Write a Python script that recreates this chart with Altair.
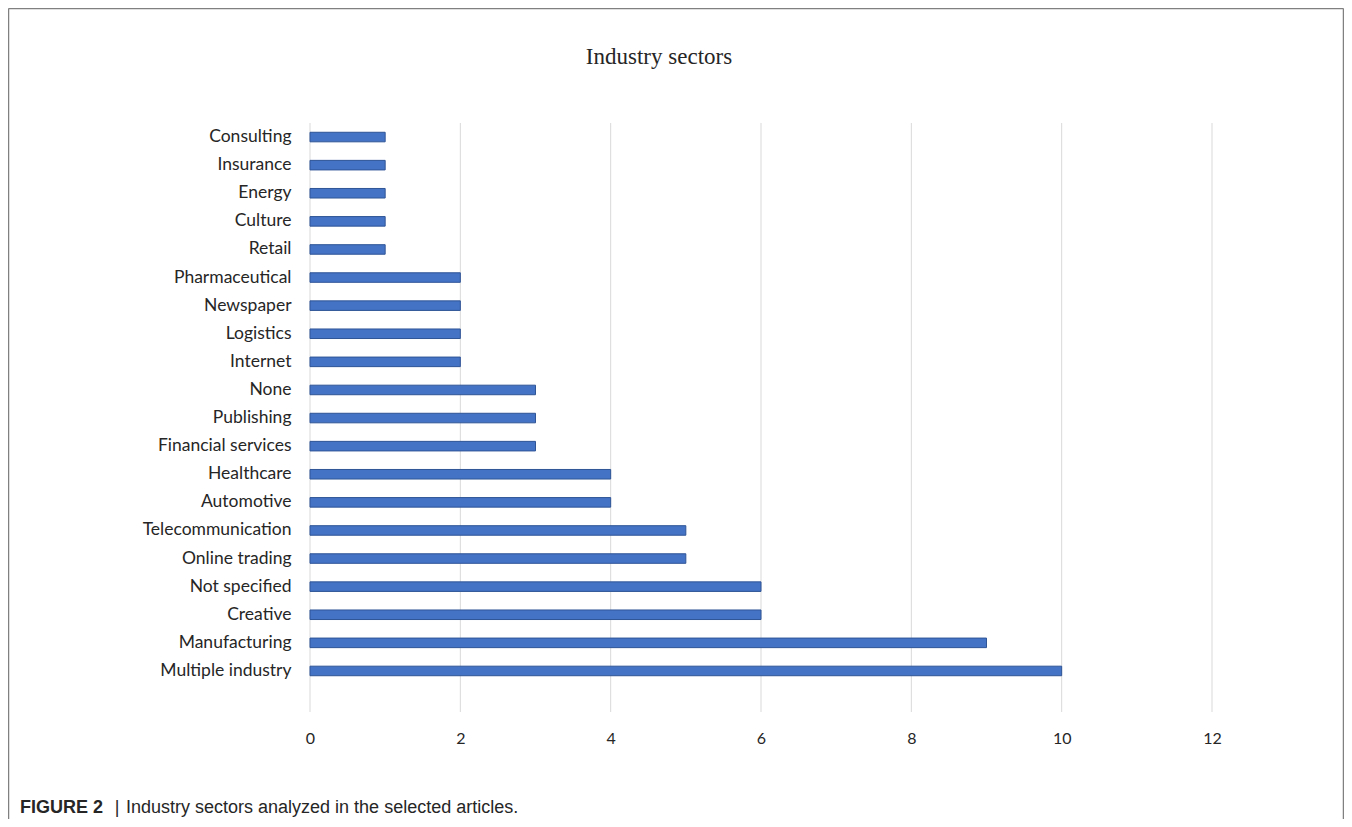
import altair as alt
import pandas as pd

categories = ["Consulting", "Insurance", "Energy", "Culture", "Retail",
              "Pharmaceutical", "Newspaper", "Logistics", "Internet", "None",
              "Publishing", "Financial services", "Healthcare", "Automotive",
              "Telecommunication", "Online trading", "Not specified", "Creative",
              "Manufacturing", "Multiple industry"]
counts = [1, 1, 1, 1, 1, 2, 2, 2, 2, 3, 3, 3, 4, 4, 5, 5, 6, 6, 9, 10]
x_ticks = [0, 2, 4, 6, 8, 10, 12]
title_text = "Industry sectors"
caption_bold = "FIGURE 2"
caption_rest = "Industry sectors analyzed in the selected articles."

W, H = 902, 589
TOTAL_H = 811
PAD_L, PAD_T = 302, 115
PAD_R = 1336 - PAD_L - W
PAD_B = TOTAL_H - PAD_T - H

df = pd.DataFrame({"sector": categories, "count": counts})
df_ticks = pd.DataFrame({"t": x_ticks})

x_axis = alt.Axis(values=x_ticks, title=None, domain=False, ticks=False, tickSize=0,
                  grid=False, labelFlush=False,
                  labelFont="Lato", labelFontSize=16, labelColor="#262626",
                  labelPadding=26, labelBaseline="middle")
x_scale = alt.Scale(domain=[0, 12], nice=False)

grid = alt.Chart(df_ticks).mark_rule(color="#d9d9d9", strokeWidth=1).encode(
    x=alt.X("t:Q", scale=x_scale, axis=x_axis),
    y=alt.value(0), y2=alt.value(H))

bars = alt.Chart(df).mark_bar(color="#4472C4", stroke="#2F5597", strokeWidth=1).encode(
    x=alt.X("count:Q", scale=x_scale, axis=x_axis),
    y=alt.Y("sector:N", sort=categories,
            scale=alt.Scale(range=[0, 562], paddingInner=0.66, paddingOuter=0.33),
            axis=alt.Axis(title=None, domain=False, ticks=False, tickSize=0, grid=False,
                          labelFont="Lato", labelFontSize=17.5, labelColor="#262626",
                          labelPadding=19, labelLimit=400)),
)

one = pd.DataFrame({"k": [0]})

title = alt.Chart(one).mark_text(font="Liberation Serif", fontSize=23, color="#262626",
                                 align="center", baseline="alphabetic").encode(
    x=alt.value(349), y=alt.value(-59), text=alt.value(title_text))

cap1 = alt.Chart(one).mark_text(font="Liberation Sans", fontSize=18, fontWeight="bold",
                                color="#262626", align="left", baseline="alphabetic").encode(
    x=alt.value(-290), y=alt.value(690), text=alt.value(caption_bold))
cap2 = alt.Chart(one).mark_text(font="Liberation Sans", fontSize=18, color="#262626",
                                align="center", baseline="alphabetic").encode(
    x=alt.value(-193), y=alt.value(690), text=alt.value("|"))
cap3 = alt.Chart(one).mark_text(font="Liberation Sans", fontSize=18, color="#262626",
                                align="left", baseline="alphabetic").encode(
    x=alt.value(-184), y=alt.value(690), text=alt.value(caption_rest))

bx0, bx1 = -PAD_L + 0.5, W + PAD_R - 0.5
by0, by1 = -PAD_T + 0.5, H + PAD_B
box_l = alt.Chart(one).mark_rule(color="#808080", strokeWidth=1.5).encode(
    x=alt.value(bx0), y=alt.value(by0), y2=alt.value(by1))
box_r = alt.Chart(one).mark_rule(color="#808080", strokeWidth=1.5).encode(
    x=alt.value(bx1), y=alt.value(by0), y2=alt.value(by1))
box_t = alt.Chart(one).mark_rule(color="#808080", strokeWidth=1.5).encode(
    x=alt.value(bx0), x2=alt.value(bx1), y=alt.value(by0))

chart = alt.layer(grid, bars, title, cap1, cap2, cap3, box_l, box_r, box_t).properties(
    width=W, height=H,
    autosize=alt.AutoSizeParams(type="none"),
    padding={"left": PAD_L, "top": PAD_T, "right": PAD_R, "bottom": PAD_B},
    background="white",
).configure_view(stroke=None)

chart.save("out.html", embed_options={"renderer": "svg", "actions": False})
